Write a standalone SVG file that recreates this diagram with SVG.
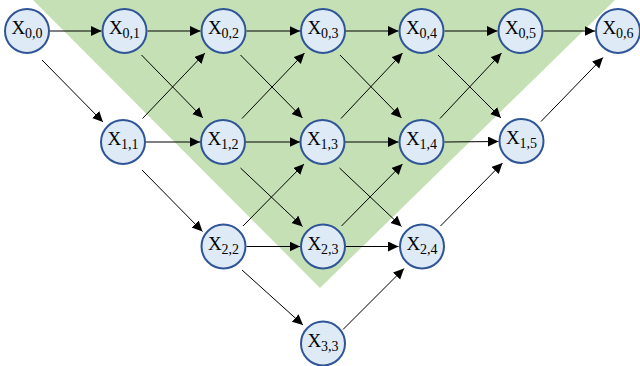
<svg xmlns="http://www.w3.org/2000/svg" width="640" height="366" viewBox="0 0 640 366">
<defs>
<marker id="ah" markerUnits="userSpaceOnUse" markerWidth="12" markerHeight="11" refX="10.5" refY="5" orient="auto">
<path d="M0,0 L10.5,5 L0,10 z" fill="#000"/>
</marker>
<style>
.n circle{fill:#deebf7;stroke:#2f5597;stroke-width:2}
.n text{font-family:"Liberation Serif","Times New Roman",serif;font-size:19px;fill:#000;text-anchor:middle}
.n tspan{font-size:14px}
#edges line{stroke:#000;stroke-width:1;marker-end:url(#ah)}
</style>
</defs>
<rect width="640" height="366" fill="#fff"/>
<polygon id="region" points="33,0 615,0 320,288" fill="#c5e0b4"/>
<g id="edges">
<line x1="50" y1="31" x2="101.5" y2="31"/>
<line x1="147.5" y1="31" x2="200.5" y2="31"/>
<line x1="246.5" y1="31" x2="300" y2="31"/>
<line x1="346" y1="31" x2="398.5" y2="31"/>
<line x1="444.5" y1="31" x2="497.5" y2="31"/>
<line x1="543.5" y1="31" x2="595" y2="31"/>
<line x1="146" y1="142" x2="200" y2="142"/>
<line x1="246" y1="142" x2="300" y2="142"/>
<line x1="345" y1="142" x2="398.5" y2="142"/>
<line x1="444.5" y1="142" x2="498.5" y2="141.5"/>
<line x1="246.5" y1="246.5" x2="300" y2="246.5"/>
<line x1="345" y1="246.5" x2="398.5" y2="246.5"/>
<line x1="42" y1="60" x2="103" y2="122"/>
<line x1="141.5" y1="55" x2="203" y2="118"/>
<line x1="240.5" y1="55" x2="302.5" y2="118"/>
<line x1="340" y1="55" x2="401.5" y2="118"/>
<line x1="438" y1="55" x2="501" y2="118"/>
<line x1="142" y1="170" x2="202.5" y2="231.5"/>
<line x1="240.5" y1="168" x2="302.5" y2="226.5"/>
<line x1="339.5" y1="168" x2="401.5" y2="226.5"/>
<line x1="242" y1="270" x2="303" y2="325"/>
<line x1="142.5" y1="118.5" x2="205" y2="53"/>
<line x1="242" y1="118.5" x2="304.5" y2="53"/>
<line x1="341" y1="118.5" x2="402.5" y2="53"/>
<line x1="440" y1="118.5" x2="501.5" y2="53"/>
<line x1="541" y1="121.5" x2="603" y2="57.5"/>
<line x1="243" y1="226" x2="304" y2="164"/>
<line x1="341.5" y1="226" x2="402.5" y2="164"/>
<line x1="440.5" y1="226" x2="502.5" y2="163"/>
<line x1="343" y1="329.5" x2="404" y2="268.5"/>
</g>
<g id="X00" class="n"><circle cx="27" cy="31" r="22"/><text x="27" y="34">X<tspan dy="4">0,0</tspan></text></g>
<g id="X01" class="n"><circle cx="124.5" cy="31" r="22"/><text x="124.5" y="34">X<tspan dy="4">0,1</tspan></text></g>
<g id="X02" class="n"><circle cx="223.5" cy="31" r="22"/><text x="223.5" y="34">X<tspan dy="4">0,2</tspan></text></g>
<g id="X03" class="n"><circle cx="323" cy="31" r="22"/><text x="323" y="34">X<tspan dy="4">0,3</tspan></text></g>
<g id="X04" class="n"><circle cx="421.5" cy="31" r="22"/><text x="421.5" y="34">X<tspan dy="4">0,4</tspan></text></g>
<g id="X05" class="n"><circle cx="520.5" cy="31" r="22"/><text x="520.5" y="34">X<tspan dy="4">0,5</tspan></text></g>
<g id="X06" class="n"><circle cx="618" cy="31" r="22"/><text x="618" y="34">X<tspan dy="4">0,6</tspan></text></g>
<g id="X11" class="n"><circle cx="123" cy="142" r="22"/><text x="123" y="145">X<tspan dy="4">1,1</tspan></text></g>
<g id="X12" class="n"><circle cx="223" cy="142" r="22"/><text x="223" y="145">X<tspan dy="4">1,2</tspan></text></g>
<g id="X13" class="n"><circle cx="322.5" cy="142" r="22"/><text x="322.5" y="145">X<tspan dy="4">1,3</tspan></text></g>
<g id="X14" class="n"><circle cx="421.5" cy="142" r="22"/><text x="421.5" y="145">X<tspan dy="4">1,4</tspan></text></g>
<g id="X15" class="n"><circle cx="521.5" cy="141" r="22"/><text x="521.5" y="144">X<tspan dy="4">1,5</tspan></text></g>
<g id="X22" class="n"><circle cx="223.5" cy="246.5" r="22"/><text x="223.5" y="249.5">X<tspan dy="4">2,2</tspan></text></g>
<g id="X23" class="n"><circle cx="323" cy="246.5" r="22"/><text x="323" y="249.5">X<tspan dy="4">2,3</tspan></text></g>
<g id="X24" class="n"><circle cx="422" cy="246.5" r="22"/><text x="422" y="249.5">X<tspan dy="4">2,4</tspan></text></g>
<g id="X33" class="n"><circle cx="323" cy="343.5" r="22"/><text x="323" y="346.5">X<tspan dy="4">3,3</tspan></text></g>
</svg>
